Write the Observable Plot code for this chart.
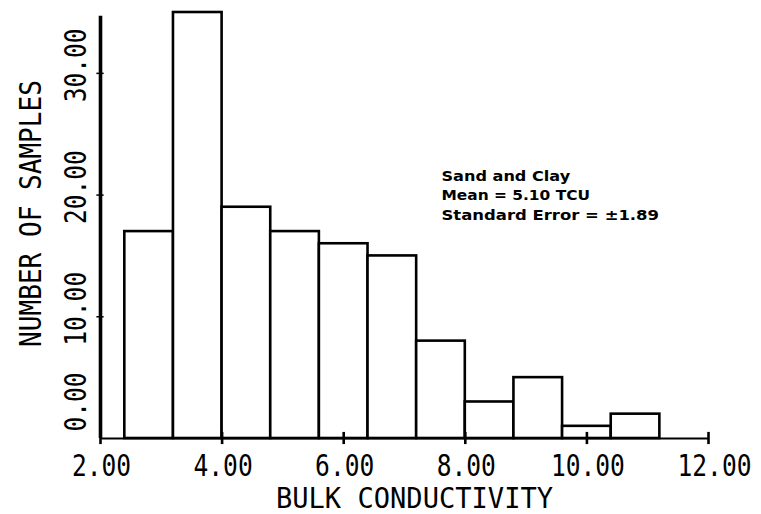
<!DOCTYPE html>
<html>
<head>
<meta charset="utf-8">
<script src="https://cdn.jsdelivr.net/npm/d3@7"></script>
<script src="https://cdn.jsdelivr.net/npm/@observablehq/plot@0.6"></script>
<style>
  html, body { margin: 0; padding: 0; background: #fff; }
  #chart svg { display: block; }
</style>
</head>
<body>
<div id="chart"></div>
<script>
// ---- data ----
const binStart = [2.4, 3.2, 4.0, 4.8, 5.6, 6.4, 7.2, 8.0, 8.8, 9.6, 10.4];
const binEnd   = [3.2, 4.0, 4.8, 5.6, 6.4, 7.2, 8.0, 8.8, 9.6, 10.4, 11.2];
const counts   = [17, 35, 19, 17, 16, 15, 8, 3, 5, 1, 2];

const xTicks = [2, 4, 6, 8, 10, 12];
const xTickLabels = ["2.00", "4.00", "6.00", "8.00", "10.00", "12.00"];
const yTicks = [0, 10, 20, 30];
const yTickLabels = ["0.00", "10.00", "20.00", "30.00"];

const xTitle = "BULK CONDUCTIVITY";
const yTitle = "NUMBER OF SAMPLES";
const annotationLines = ["Sand and Clay", "Mean = 5.10 TCU", "Standard Error = ±1.89"];

const xDomain = [2, 12];
const yDomain = [0, 35];
const yAxisTop = 34.7;

// ---- build table ----
const bins = binStart.map((s, i) => ({x1: s, x2: binEnd[i], count: counts[i]}));
const xt = xTicks.map((v, i) => ({v, label: xTickLabels[i]}));
const yt = yTicks.map((v, i) => ({v, label: yTickLabels[i]}));

const font = "'DejaVu Sans Mono', monospace";

const chart = Plot.plot({
  width: 761,
  height: 514,
  marginLeft: 100,
  marginRight: 53,
  marginTop: 12,
  marginBottom: 76,
  x: {domain: xDomain, axis: null},
  y: {domain: yDomain, axis: null},
  style: {background: "#fff", fontFamily: font, overflow: "visible"},
  marks: [
    Plot.rect(bins, {x1: "x1", x2: "x2", y1: 0, y2: "count", fill: "white", stroke: "black", strokeWidth: 2.6}),
    // axis lines
    Plot.ruleY([0], {x1: xDomain[0], x2: xDomain[1], stroke: "black", strokeWidth: 2.2}),
    Plot.ruleX([xDomain[0]], {y1: 0, y2: yAxisTop, stroke: "black", strokeWidth: 3.6}),
    // tick marks crossing the axes
    Plot.ruleX(xTicks, {x: d => d, y1: -0.5, y2: 0.5, stroke: "black", strokeWidth: 2.6}),
    Plot.ruleY(yTicks.filter(d => d > 0), {y: d => d, x1: 1.94, x2: 2.06, stroke: "black", strokeWidth: 1.5}),
    // x tick labels
    Plot.text(xt.filter(d => d.v < 12), {x: "v", y: 0, text: "label", dx: 1, dy: 37, lineAnchor: "bottom", fontSize: 30, fill: "black"}),
    Plot.text(xt.filter(d => d.v === 12), {x: "v", y: 0, text: "label", dx: 6, dy: 37, lineAnchor: "bottom", fontSize: 30, fill: "black"}),
    // y tick labels (rotated)
    Plot.text(yt.filter(d => d.v > 0), {x: xDomain[0], y: "v", text: "label", rotate: -90, dx: -24, dy: -8,
      textAnchor: "middle", lineAnchor: "middle", fontSize: 30, fill: "black"}),
    Plot.text(yt.filter(d => d.v === 0), {x: xDomain[0], y: "v", text: "label", rotate: -90, dx: -24, dy: -7,
      textAnchor: "start", lineAnchor: "middle", fontSize: 30, fill: "black"}),
    // axis titles
    Plot.text([yTitle], {frameAnchor: "left", rotate: -90, dx: -69, dy: -12, lineAnchor: "middle",
      textAnchor: "middle", fontSize: 30, fill: "black"}),
    Plot.text([xTitle], {frameAnchor: "bottom", dx: 10, dy: 69.5, lineAnchor: "bottom",
      fontSize: 29, fill: "black"}),
    // annotation
    ...annotationLines.map((t, i) => Plot.text([t], {frameAnchor: "top-left", dx: 341, dy: 168 + i * 19.5,
      lineAnchor: "bottom", textAnchor: "start", fontSize: 14, fontWeight: "bold",
      fontFamily: "'DejaVu Sans', sans-serif", fill: "black"}))
  ]
});

document.getElementById("chart").appendChild(chart);

// condensed lettering: squeeze each label horizontally to the width measured on the reference
const perChar = t => annotationLines.includes(t) ? 9.9 : (t === xTitle ? 16.3 : (t === yTitle ? 15.7 : 14.8));
d3.select(chart).selectAll("text").each(function() {
  const t = this.textContent;
  if (!t) return;
  const natural = this.getComputedTextLength();
  if (!natural) return;
  const s = (t.length * perChar(t)) / natural;
  const tr = this.getAttribute("transform") || "";
  this.setAttribute("transform", `${tr} scale(${s.toFixed(4)},1)`.trim());
});
</script>
</body>
</html>
